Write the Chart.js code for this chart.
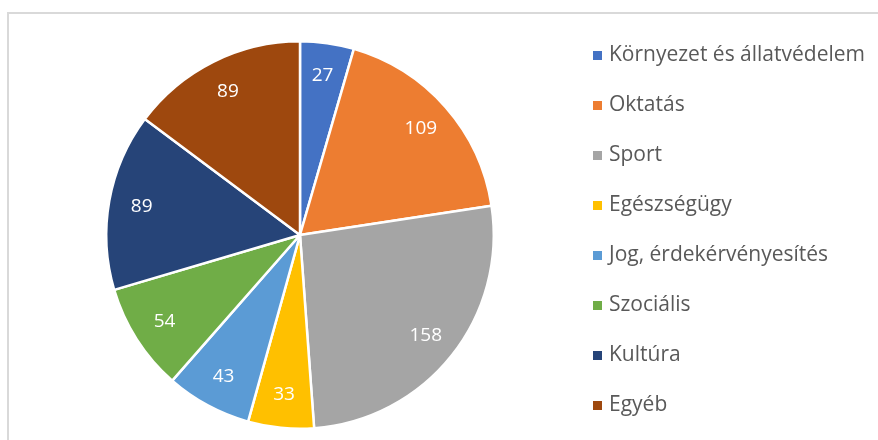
<!DOCTYPE html>
<html>
<head>
<meta charset="utf-8">
<script src="https://cdn.jsdelivr.net/npm/chart.js@4"></script>
<style>
  html, body { margin: 0; padding: 0; background: #fff; }
  #wrap { position: relative; width: 878px; height: 440px; }
  #frame { position: absolute; left: 7px; top: 12px; right: -10px; bottom: -10px;
           border-left: 2px solid #d9d9d9; border-top: 2px solid #d9d9d9; }
  #myChart { position: absolute; left: 0; top: 0; }
</style>
</head>
<body>
<div id="wrap">
  <div id="frame"></div>
  <canvas id="myChart" width="878" height="440"></canvas>
</div>
<script>
// categories and values
var labels = ['Környezet és állatvédelem', 'Oktatás', 'Sport', 'Egészségügy',
              'Jog, érdekérvényesítés', 'Szociális', 'Kultúra', 'Egyéb'];
var values = [27, 109, 158, 33, 43, 54, 89, 89];
var colors = ['#4472C4', '#ED7D31', '#A5A5A5', '#FFC000',
              '#5B9BD5', '#70AD47', '#264478', '#9E480E'];

// value labels inside the slices
var sliceLabels = {
    id: 'sliceLabels',
    afterDatasetsDraw: function(chart) {
        var ctx = chart.ctx;
        var meta = chart.getDatasetMeta(0);
        ctx.save();
        ctx.fillStyle = '#ffffff';
        ctx.font = '19px "Open Sans"';
        ctx.textAlign = 'center';
        ctx.textBaseline = 'middle';
        meta.data.forEach(function(arc, i) {
            var p = arc.getProps(['x', 'y', 'startAngle', 'endAngle', 'outerRadius'], true);
            var mid = (p.startAngle + p.endAngle) / 2;
            var r = p.outerRadius * 0.83;
            ctx.fillText(chart.data.datasets[0].data[i], p.x + Math.cos(mid) * r, p.y + Math.sin(mid) * r);
        });
        ctx.restore();
    }
};

// legend on the right, one row per category
var sideLegend = {
    id: 'sideLegend',
    afterDraw: function(chart) {
        var ctx = chart.ctx;
        var ds = chart.data.datasets[0];
        var x0 = chart.chartArea.right + 8;
        var y0 = 55, step = 50;
        ctx.save();
        ctx.font = '21px "Open Sans"';
        ctx.textBaseline = 'middle';
        ctx.textAlign = 'left';
        chart.data.labels.forEach(function(lab, i) {
            var y = y0 + i * step;
            ctx.fillStyle = ds.backgroundColor[i];
            ctx.fillRect(x0, y - 4, 9, 9);
            ctx.fillStyle = '#595959';
            ctx.fillText(lab, x0 + 16, y);
        });
        ctx.restore();
    }
};

var ctx1 = document.getElementById('myChart').getContext('2d');
var myChart = new Chart(ctx1, {
    type: 'pie',
    data: {
        labels: labels,
        datasets: [{
            data: values,
            backgroundColor: colors,
            borderColor: '#ffffff',
            borderWidth: 2.5
        }]
    },
    options: {
        responsive: false,
        animation: false,
        layout: { padding: { left: 15, right: 293, top: 40, bottom: 10 } },
        plugins: {
            tooltip: { enabled: false },
            legend: { display: false }
        }
    },
    plugins: [sliceLabels, sideLegend]
});
</script>
</body>
</html>
